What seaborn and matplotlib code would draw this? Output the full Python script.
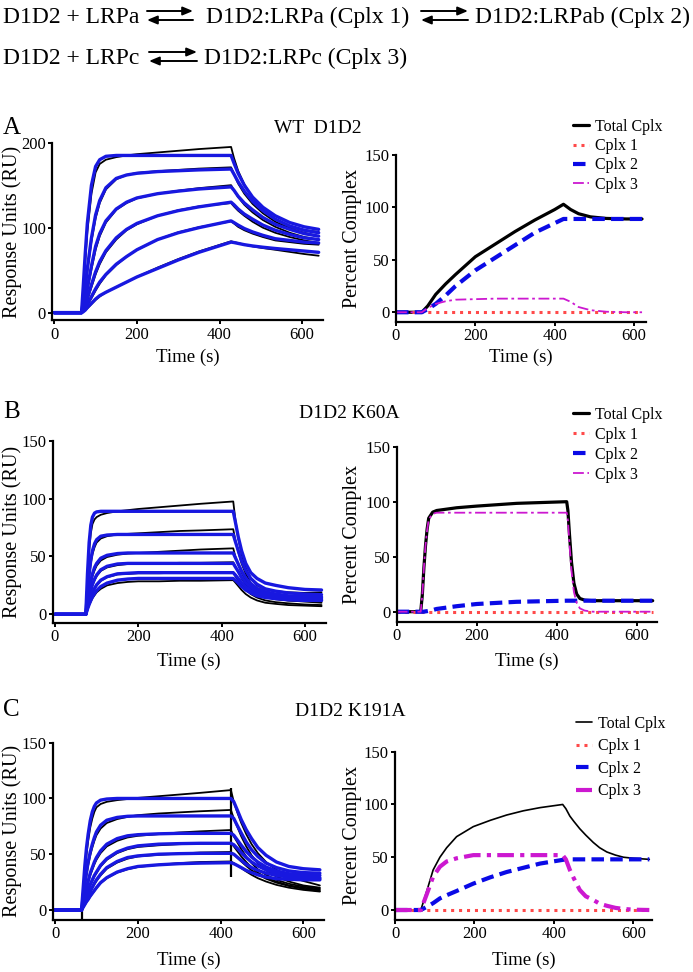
import matplotlib

matplotlib.use("Agg")
import matplotlib.pyplot as plt
import seaborn as sns
from matplotlib.patches import FancyArrowPatch

sns.set_theme(style="ticks", rc={
    "axes.edgecolor": "black", "xtick.color": "black", "ytick.color": "black",
    "text.color": "black", "axes.labelcolor": "black",
})
plt.rcParams["font.family"] = ["Liberation Serif", "DejaVu Serif"]

W, H = 693, 972
FIT_BLUE = "#1818e0"
RED = "#ff4a4a"
DASH_BLUE = "#0a0ae6"
MAGENTA = "#cc18d0"

# ---------------------------------------------------------------------------
# Sensorgram data (RU) -- black = measured, blue = global fit
# ---------------------------------------------------------------------------
t_wt = [0, 66, 70, 75, 80, 90, 100, 110, 125, 150, 175, 200, 250, 300, 350, 428,
        435, 445, 460, 480, 505, 535, 570, 605, 640]
wt_fit = [
    [0, 0, 30, 70, 105, 150, 172, 180, 184, 185, 185, 185, 185, 185, 185, 185,
     176, 164, 150, 136, 124, 114, 106, 101, 98],
    [0, 0, 12, 30, 52, 88, 115, 132, 147, 158, 162, 164, 166, 167, 168, 169,
     163, 154, 143, 131, 120, 110, 102, 97, 94],
    [0, 0, 7, 17, 29, 55, 78, 93, 108, 122, 130, 135, 140, 143, 145.5, 148,
     144, 137, 129, 121, 112, 104, 98, 93, 90],
    [0, 0, 4, 10, 17, 33, 48, 60, 73, 88, 98, 105, 114, 120, 124.5, 130,
     127, 122, 116, 110, 103, 97, 92, 88, 86],
    [0, 0, 2, 6, 10, 19, 28, 36, 45, 57, 66, 74, 86, 94, 100, 108,
     106, 103, 99, 95, 91, 87, 85, 83, 82],
    [0, 0, 1, 3, 6, 11, 16, 20, 24, 30, 36, 42, 52, 62, 71, 83,
     82.5, 81.5, 80, 78.5, 77, 75.5, 74, 72.5, 71],
]
wt_data = [
    [0, 0, 25, 60, 95, 140, 165, 175, 180, 183, 185, 186.5, 188.5, 190.5, 192.5, 195,
     182, 167, 151, 135, 121, 110, 101, 97, 95],
    [0, 0, 10, 27, 48, 84, 111, 129, 145, 157, 162, 164.5, 166.5, 168, 169.5, 171,
     163, 152, 140, 128, 117, 107, 99, 94, 90],
    [0, 0, 6, 15, 26, 51, 74, 90, 106, 121, 129, 134.5, 140, 143.5, 146.5, 150,
     144, 136, 127, 118, 109, 101, 94, 89, 86],
    [0, 0, 3, 8, 15, 30, 45, 57, 71, 86, 97, 104, 114, 120.5, 125, 129,
     125, 120, 114, 107, 100, 94, 89, 85, 82],
    [0, 0, 2, 5, 9, 17, 26, 34, 44, 56, 66, 74, 86, 94.5, 100.5, 107.5,
     105, 101, 97, 93, 89, 85, 83, 81, 80],
    [0, 0, 1, 3, 5, 10, 15, 19, 24, 30, 36, 42, 53, 63, 72, 84,
     83, 82, 80, 78, 76, 74, 71.5, 69, 67],
]

t_k60 = [0, 74, 78, 82, 86, 90, 95, 100, 110, 125, 150, 175, 200, 250, 300, 350, 428,
         433, 440, 448, 458, 470, 485, 505, 530, 560, 600, 640]
k60_fit = [
    [0, 0, 35, 62, 77, 84, 87.5, 88.5, 89, 89, 89, 89, 89, 89, 89, 89, 89,
     80, 67, 55, 44, 36, 31, 27, 25, 23, 21.5, 21],
    [0, 0, 18, 35, 47, 55, 61, 64.5, 67.5, 68.5, 69, 69, 69, 69, 69, 69, 69,
     63, 55, 46, 38, 31, 26, 22, 20, 18.5, 17.5, 17],
    [0, 0, 11, 21, 29, 35, 40.5, 44, 48.5, 51, 52.5, 53, 53, 53, 53, 53, 53,
     49, 43.5, 37.5, 31.5, 26.5, 22.5, 19.5, 17.5, 16, 15.5, 15],
    [0, 0, 8, 15, 21, 26, 30.5, 34, 38.5, 41.5, 43.5, 44, 44, 44, 44, 44, 44,
     41, 37, 32, 27.5, 23.5, 20, 17.5, 16, 15, 14.5, 14],
    [0, 0, 6, 11, 15, 19, 22.5, 25.5, 29.5, 32.5, 35, 35.5, 36, 36, 36, 36, 36,
     34, 31, 27.5, 24, 20.5, 18, 16, 14.5, 13.5, 13, 12.5],
    [0, 0, 4.5, 8.5, 12, 15, 18, 20.5, 24, 27, 29.5, 30.5, 31, 31, 31, 31, 31,
     29.5, 27, 24, 21, 18.5, 16, 14.5, 13.5, 12.5, 12, 12],
]
k60_data = [
    [0, 0, 30, 55, 70, 78, 82, 84, 86, 87.5, 89, 90, 91, 92.5, 94, 95.5, 97.5,
     82, 66, 52, 40, 31, 25, 21.5, 20, 19, 18.5, 19],
    [0, 0, 16, 32, 44, 52, 58, 62, 65.5, 67.5, 69, 69.5, 70, 71, 72, 72.5, 73.5,
     64, 54, 44, 35, 27, 21, 17, 14.5, 13, 12.5, 12],
    [0, 0, 10, 19, 27, 33, 38, 42, 46.5, 49.5, 51.5, 52.5, 53, 54, 55, 56, 57,
     50, 43, 36, 29.5, 24, 19.5, 16, 13.5, 12, 11, 10],
    [0, 0, 7, 14, 20, 25, 29.5, 33, 37.5, 40.5, 42.5, 43.5, 44, 44, 44.5, 44.5, 45,
     41, 36.5, 31, 26, 21.5, 18, 15, 13, 12, 11.5, 11],
    [0, 0, 5.5, 10.5, 14.5, 18.5, 22, 25, 29, 32, 34.5, 35, 35.5, 35.5, 36, 36, 36,
     33, 29.5, 25.5, 21.5, 17.5, 14.5, 12, 10.5, 9.5, 8.5, 8],
    [0, 0, 4, 8, 11, 14, 16.5, 19, 22, 25, 27, 28, 28.5, 28.5, 29, 29, 29.5,
     27.5, 24.5, 21, 17.5, 14.5, 12, 10, 9, 8, 7.5, 7],
]

t_k191 = [0, 64, 68, 72, 76, 80, 85, 90, 95, 100, 110, 125, 150, 175, 200, 250, 300, 350, 425,
          432, 440, 450, 462, 475, 490, 510, 535, 565, 600, 640]
k191_fit = [
    [0, 0, 20, 40, 56, 68, 80, 88, 93, 96, 98.5, 99.5, 100, 100, 100, 100, 100, 100, 100,
     97, 90, 81, 72, 64, 56, 49, 43, 39, 37, 36],
    [0, 0, 12, 24, 34, 43, 52, 59, 65, 70, 76, 80.5, 83, 84, 84.3, 84.3, 84.3, 84.3, 84.3,
     82, 76, 69, 61, 54, 48, 42, 38, 35, 33.5, 33],
    [0, 0, 7, 14, 20, 26, 33, 38, 43, 47, 53, 59, 64, 66.5, 67.5, 68.3, 68.7, 68.7, 68.7,
     67, 63, 58, 52.5, 47.5, 43, 38.5, 35, 32.5, 31.5, 31],
    [0, 0, 5, 10, 14, 18, 23, 27, 31, 34, 40, 46, 52, 55.5, 57.5, 59, 59.5, 59.8, 59.8,
     58.5, 55.5, 51.5, 47, 43, 39.5, 36, 33, 31, 29.5, 29],
    [0, 0, 3.5, 7, 10.5, 13, 17, 20.5, 24, 27, 32, 38, 43.5, 47, 48.5, 50, 50.5, 50.8, 50.8,
     50, 47.5, 44.5, 41, 38, 35.5, 33, 31, 29.5, 28.5, 28],
    [0, 0, 2.5, 5, 7.5, 9.5, 12.5, 15, 17.5, 20, 24.5, 29, 34, 37, 39, 40.5, 41.5, 42, 42.4,
     41.5, 40, 38, 35.5, 33.5, 31.5, 29.5, 28, 27.5, 27, 27],
]
k191_data = [
    [0, 0, 15, 33, 50, 62, 74, 82, 88, 92, 95, 97, 98.5, 99.5, 100.5, 102, 103.5, 105, 107.5,
     97, 88, 78, 68, 59, 51, 43, 36, 30, 26, 22],
    [0, 0, 10, 21, 31, 40, 49, 56, 62, 67, 73, 78, 81.5, 83.5, 85, 86.5, 87.5, 88.5, 89.7,
     82, 75, 66, 57, 49, 42, 35.5, 30, 25.5, 22, 20],
    [0, 0, 6, 13, 19, 25, 31, 36, 41, 45, 51, 57, 62, 65, 66.5, 68, 69.5, 70.5, 71.7,
     66, 61, 54.5, 48, 42, 36.5, 31.5, 27, 23.5, 21, 19],
    [0, 0, 4.5, 9, 13, 17, 22, 26, 30, 33, 39, 45, 51, 54.5, 56.5, 58, 59, 59.5, 60,
     57, 53, 48, 43, 38, 33.5, 29, 25.5, 22, 20, 18],
    [0, 0, 3, 6.5, 10, 12.5, 16, 19.5, 23, 26, 31, 37, 42.5, 46, 48, 49.5, 50.5, 51.5, 52,
     50, 47, 43.5, 39.5, 35.5, 32, 28, 24.5, 21.5, 19, 17],
    [0, 0, 2, 4.5, 7, 9, 12, 14.5, 17, 19.5, 24, 28.5, 33.5, 36.5, 38.5, 40.5, 42, 43, 43.5,
     42, 40, 37.5, 34.5, 31.5, 28.5, 25.5, 22.5, 20, 18, 16.5],
]
# injection / wash artefacts in the K191A trace
k191_spike_t = [64, 425]
k191_spike_lo = [-9, 30]
k191_spike_hi = [0, 109]

# ---------------------------------------------------------------------------
# Simulated complex fractions (%)
# ---------------------------------------------------------------------------
pt_wt = [0, 65, 80, 100, 125, 150, 200, 250, 300, 350, 400, 422, 440, 460, 490, 530, 580, 620]
wt_total = [0, 0, 6, 17, 27, 36, 53, 65, 77, 88, 98, 103, 98, 94, 91, 89.5, 89, 89]
wt_c1 = [0] * len(pt_wt)
wt_c2 = [0, 0, 3, 8, 16, 25, 40, 52, 64, 76, 85, 89, 89, 89, 89, 89, 89, 89]
wt_c3 = [0, 0, 4, 8, 10.5, 12, 12.5, 13, 13, 13, 13, 13, 10, 5, 2, 0.5, 0, 0]

pt_k60 = [0, 60, 64, 68, 72, 76, 80, 90, 100, 150, 200, 300, 425, 428, 432, 437, 443, 450,
          458, 470, 490, 640]
k60_total = [0, 0, 15, 40, 60, 75, 85, 90.5, 92, 94.5, 96, 98.5, 100, 92, 70, 45, 26, 16,
             12, 10.5, 10, 10]
k60_c1 = [0] * len(pt_k60)
k60_c2 = [0, 0, 0, 0, 0.3, 0.5, 0.8, 1.5, 2.5, 5, 7, 9, 10, 10, 10, 10, 10, 10,
          10, 10, 10, 10]
k60_c3 = [0, 0, 15, 40, 60, 74, 84, 89, 90, 90, 90, 90, 90, 83, 61, 37, 18, 8,
          3, 1, 0, 0]

pt_k191 = [0, 65, 80, 96, 113, 130, 155, 197, 240, 281, 323, 365, 422, 430, 440, 450, 465,
           480, 499, 515, 533, 555, 575, 600, 640]
k191_total = [0, 0, 18, 38, 50, 59, 69.5, 79, 85, 90, 94, 97, 100, 96, 89, 84, 77,
              71, 64, 59, 55, 52, 50, 49, 48]
k191_c1 = [0] * len(pt_k191)
k191_c2 = [0, 0, 3, 6.5, 11, 14, 18, 25, 31, 36, 40, 44, 47.5, 48, 48, 48, 48,
           48, 48, 48, 48, 48, 48, 48, 48]
k191_c3 = [0, 0, 15, 31.6, 41, 46, 49, 52, 52, 52, 52, 52, 52, 48, 38, 30, 19,
           13, 9.5, 6, 4, 2, 1, 0.3, 0]

LEGEND = ["Total Cplx", "Cplx 1", "Cplx 2", "Cplx 3"]


def add_ax(fig, x0, x1, y_top, y_bot):
    """Axes placed by pixel edges of the reference image."""
    return fig.add_axes([x0 / W, 1 - y_bot / H, (x1 - x0) / W, (y_bot - y_top) / H])


def style(ax, xlim, ylim, yticks, ylabel, lab_x, time_y):
    ax.set_xlim(*xlim)
    ax.set_ylim(*ylim)
    ax.set_xticks([0, 200, 400, 600])
    ax.set_yticks(yticks)
    sns.despine(ax=ax)
    for s in ("left", "bottom"):
        ax.spines[s].set_linewidth(1.6)
    ax.tick_params(direction="out", length=3, width=1.4, pad=1.5, labelsize=12)
    ax.set_ylabel(ylabel, fontsize=14.5)
    ax.set_xlabel("Time (s)", fontsize=13.5)
    pos = ax.get_position()
    ax.yaxis.set_label_coords((lab_x / W - pos.x0) / pos.width, 0.5)
    ax.xaxis.set_label_coords(0.5, ((1 - time_y / H) - pos.y0) / pos.height)
    ax.xaxis.label.set_va("center")
    ax.yaxis.label.set_va("center")


def sensorgram(ax, t, data, fit):
    for y in data:
        sns.lineplot(x=t, y=y, ax=ax, color="black", lw=1.3,
                     estimator=None, sort=False)
    for y in fit:
        sns.lineplot(x=t, y=y, ax=ax, color=FIT_BLUE, lw=2.4,
                     estimator=None, sort=False)


def fractions(ax, t, total, c1, c2, c3, thick3=False, thin_total=False):
    sns.lineplot(x=t, y=total, ax=ax, color="black", lw=1.2 if thin_total else 2.3,
                 estimator=None, sort=False, label=LEGEND[0])
    sns.lineplot(x=t, y=c1, ax=ax, color=RED, lw=2.2, linestyle=(0, (1, 1.6)),
                 estimator=None, sort=False, label=LEGEND[1])
    sns.lineplot(x=t, y=c2, ax=ax, color=DASH_BLUE, lw=3, linestyle=(0, (3, 1.5)),
                 estimator=None, sort=False, label=LEGEND[2])
    sns.lineplot(x=t, y=c3, ax=ax, color=MAGENTA, lw=3 if thick3 else 1.3,
                 linestyle=(0, (4, 1.5, 1, 1.5)) if thick3 else (0, (6, 2, 1.5, 2)),
                 estimator=None, sort=False, label=LEGEND[3])


def legend(fig, ax, x, y, spacing):
    ax.legend(loc="upper left", bbox_to_anchor=(x / W, 1 - y / H),
              bbox_transform=fig.transFigure, frameon=False, fontsize=11.5,
              handlelength=1.0, handletextpad=0.4, labelspacing=spacing,
              borderpad=0, borderaxespad=0)


fig = plt.figure(figsize=(W / 100, H / 100), dpi=100)

# ---------------------------------------------------------------------------
# Reaction scheme
# ---------------------------------------------------------------------------
EQ = 17
fig.text(3 / W, 1 - 23 / H, "D1D2 + LRPa", fontsize=EQ, va="baseline")
fig.text(206 / W, 1 - 23 / H, "D1D2:LRPa (Cplx 1)", fontsize=EQ, va="baseline")
fig.text(475 / W, 1 - 23 / H, "D1D2:LRPab (Cplx 2)", fontsize=EQ, va="baseline")
fig.text(3 / W, 1 - 64 / H, "D1D2 + LRPc", fontsize=EQ, va="baseline")
fig.text(204 / W, 1 - 64 / H, "D1D2:LRPc (Cplx 3)", fontsize=EQ, va="baseline")


def equilibrium(x0, x1, y):
    for a, b, yy in ((x0, x1, y), (x1, x0, y + 9)):
        arr = FancyArrowPatch((a / W, 1 - yy / H), (b / W, 1 - yy / H),
                              transform=fig.transFigure, color="black", lw=1.4,
                              arrowstyle="-|>,head_length=6,head_width=2.5",
                              shrinkA=0, shrinkB=0)
        fig.add_artist(arr)


equilibrium(147, 193, 11)
equilibrium(421, 468, 11)
equilibrium(149, 197, 52)

# ---------------------------------------------------------------------------
# Panels
# ---------------------------------------------------------------------------
for letter, y in (("A", 134), ("B", 418), ("C", 716)):
    fig.text(3 / W, 1 - y / H, letter, fontsize=18, va="baseline")
fig.text(318 / W, 1 - 133 / H, "WT  D1D2", fontsize=14, ha="center", va="baseline")
fig.text(349 / W, 1 - 418 / H, "D1D2 K60A", fontsize=14, ha="center", va="baseline")
fig.text(350 / W, 1 - 716 / H, "D1D2 K191A", fontsize=14, ha="center", va="baseline")

# A: wild type
ax = add_ax(fig, 52.2, 322.8, 142.7, 320.3)
sensorgram(ax, t_wt, wt_data, wt_fit)
style(ax, (-5, 650), (-9, 200), [0, 100, 200], "Response Units (RU)", 12, 357)

ax = add_ax(fig, 396, 646, 155, 321.7)
fractions(ax, pt_wt, wt_total, wt_c1, wt_c2, wt_c3)
style(ax, (0, 630), (-9, 150), [0, 50, 100, 150], "Percent Complex", 352, 357)
legend(fig, ax, 573, 119, 0.2)

# B: K60A
ax = add_ax(fig, 52.9, 325.7, 440.7, 623)
sensorgram(ax, t_k60, k60_data, k60_fit)
style(ax, (-5, 650), (-7.5, 150), [0, 50, 100, 150], "Response Units (RU)", 12, 661)

ax = add_ax(fig, 396.7, 656.7, 446.7, 621.6)
fractions(ax, pt_k60, k60_total, k60_c1, k60_c2, k60_c3)
style(ax, (0, 650), (-9, 150), [0, 50, 100, 150], "Percent Complex", 352, 661)
legend(fig, ax, 573, 407, 0.25)

# C: K191A
ax = add_ax(fig, 53, 324, 742.7, 920)
ax.vlines(k191_spike_t, k191_spike_lo, k191_spike_hi, color="black", lw=1.6)
sensorgram(ax, t_k191, k191_data, k191_fit)
style(ax, (-5, 650), (-9, 150), [0, 50, 100, 150], "Response Units (RU)", 12, 960)

ax = add_ax(fig, 395, 651.7, 751.7, 919.5)
fractions(ax, pt_k191, k191_total, k191_c1, k191_c2, k191_c3, thick3=True, thin_total=True)
style(ax, (0, 646), (-9, 150), [0, 50, 100, 150], "Percent Complex", 352, 960)
legend(fig, ax, 576, 716, 0.4)

fig.savefig("out.png", dpi=100)
